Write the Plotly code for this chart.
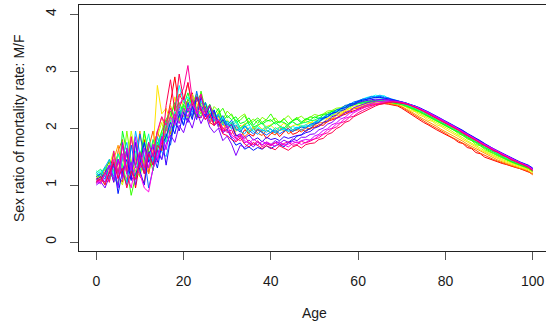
import colorsys
import plotly.graph_objects as go

ages = list(range(0, 101))

s00 = [1.05,1.10,1.02,1.25,1.55,1.15,1.05,1.65,1.35,0.95,
       1.40,1.80,1.20,1.55,1.95,1.72,2.05,2.45,2.90,2.35,
       2.55,2.40,2.62,2.20,2.18,2.38,2.10,2.05,2.22,1.95,
       1.98,2.06,1.88,1.84,1.97,1.90,1.86,1.99,1.93,1.82,
       1.90,1.95,1.85,1.93,2.00,1.89,1.92,1.98,1.94,2.00,
       2.01,2.06,2.05,2.12,2.14,2.17,2.22,2.24,2.28,2.30,
       2.33,2.36,2.38,2.40,2.42,2.42,2.43,2.42,2.41,2.39,
       2.35,2.30,2.24,2.20,2.15,2.10,2.06,2.01,1.97,1.93,
       1.89,1.84,1.81,1.75,1.73,1.66,1.64,1.57,1.55,1.49,
       1.46,1.43,1.40,1.38,1.36,1.33,1.31,1.29,1.26,1.24,
       1.20]
s01 = [1.15,1.08,1.30,1.40,1.05,1.60,1.80,1.20,1.10,1.50,
       1.15,1.05,1.65,1.95,1.52,1.68,2.15,1.90,2.35,2.60,
       2.45,2.80,2.35,2.48,2.60,2.25,2.12,2.28,2.02,2.10,
       1.95,1.90,2.03,1.97,1.85,1.92,2.00,1.91,1.87,1.96,
       1.92,1.88,1.97,2.02,1.90,1.95,1.99,1.93,2.01,1.98,
       2.04,2.03,2.09,2.11,2.17,2.18,2.23,2.27,2.29,2.34,
       2.35,2.38,2.40,2.42,2.43,2.44,2.44,2.43,2.42,2.40,
       2.37,2.32,2.27,2.22,2.18,2.13,2.08,2.04,2.00,1.95,
       1.91,1.86,1.82,1.78,1.74,1.69,1.65,1.61,1.56,1.52,
       1.48,1.45,1.42,1.39,1.37,1.34,1.32,1.29,1.27,1.24,
       1.18]
s02 = [1.12,1.18,1.28,1.05,1.45,1.70,1.25,1.10,1.85,1.45,
       1.95,1.38,1.20,1.75,1.90,2.20,1.95,2.40,2.15,2.30,
       2.20,2.52,2.35,2.20,2.45,2.30,2.08,2.20,2.15,1.98,
       2.08,2.00,1.94,2.05,1.99,1.91,2.03,1.96,1.93,2.02,
       1.98,1.92,2.01,1.95,2.05,1.97,1.96,2.03,2.00,2.04,
       2.06,2.09,2.10,2.16,2.17,2.22,2.24,2.29,2.31,2.35,
       2.36,2.39,2.41,2.43,2.44,2.45,2.45,2.44,2.43,2.41,
       2.38,2.34,2.29,2.25,2.20,2.16,2.11,2.07,2.03,1.98,
       1.94,1.89,1.85,1.81,1.77,1.72,1.68,1.63,1.59,1.55,
       1.51,1.47,1.44,1.41,1.38,1.35,1.33,1.30,1.28,1.25,
       1.19]
s03 = [1.08,1.15,1.30,1.20,1.12,1.38,1.25,1.55,1.42,1.22,
       1.50,1.35,1.75,1.60,2.75,2.25,2.35,2.10,2.55,2.28,
       2.40,2.30,2.18,2.45,2.25,2.35,2.15,2.10,2.20,2.05,
       2.02,2.10,1.97,2.01,2.08,1.96,2.00,2.06,1.98,2.03,
       2.05,1.98,2.02,2.09,2.00,2.04,2.07,2.02,2.06,2.10,
       2.09,2.13,2.16,2.17,2.22,2.25,2.26,2.31,2.34,2.35,
       2.38,2.41,2.43,2.45,2.46,2.47,2.47,2.46,2.45,2.43,
       2.40,2.37,2.31,2.29,2.23,2.20,2.14,2.12,2.06,2.03,
       1.98,1.94,1.89,1.85,1.80,1.76,1.71,1.67,1.62,1.58,
       1.54,1.50,1.47,1.43,1.40,1.37,1.35,1.32,1.29,1.27,
       1.22]
s04 = [1.18,1.12,1.00,1.35,1.60,1.15,1.00,1.40,1.95,1.55,
       1.25,1.90,1.45,1.38,1.85,2.10,1.80,2.25,2.40,2.15,
       2.50,2.28,2.60,2.35,2.20,2.42,2.25,2.12,2.30,2.08,
       2.15,2.05,2.10,1.98,2.07,2.12,2.01,2.04,2.10,2.02,
       2.06,2.11,2.03,2.00,2.08,2.12,2.05,2.08,2.13,2.09,
       2.14,2.13,2.18,2.21,2.22,2.27,2.28,2.33,2.35,2.39,
       2.40,2.42,2.44,2.46,2.47,2.47,2.47,2.46,2.45,2.44,
       2.41,2.38,2.34,2.30,2.26,2.22,2.18,2.14,2.10,2.05,
       2.01,1.97,1.92,1.88,1.83,1.78,1.74,1.69,1.65,1.60,
       1.56,1.52,1.49,1.45,1.42,1.39,1.36,1.33,1.31,1.28,
       1.23]
s05 = [1.10,1.22,1.15,1.08,1.35,1.55,1.30,1.95,1.42,1.25,
       1.15,1.48,1.60,1.40,1.72,1.95,2.05,1.85,2.30,2.10,
       2.38,2.15,2.45,2.60,2.30,2.45,2.20,2.38,2.30,2.15,
       2.30,2.22,2.12,2.20,2.25,2.10,2.16,2.08,2.19,2.14,
       2.12,2.18,2.09,2.16,2.22,2.13,2.17,2.21,2.14,2.19,
       2.24,2.22,2.25,2.30,2.31,2.35,2.36,2.39,2.42,2.42,
       2.44,2.47,2.46,2.49,2.47,2.49,2.46,2.47,2.44,2.43,
       2.41,2.38,2.35,2.32,2.28,2.24,2.20,2.16,2.12,2.08,
       2.04,1.99,1.96,1.90,1.87,1.81,1.78,1.71,1.69,1.62,
       1.59,1.55,1.51,1.47,1.44,1.41,1.38,1.35,1.32,1.29,
       1.24]
s06 = [1.15,1.20,1.30,1.12,1.42,1.25,1.50,1.30,0.82,1.15,
       1.40,1.25,1.55,1.70,1.62,1.95,2.15,2.30,2.05,2.45,
       2.28,2.50,2.40,2.20,2.65,2.32,2.40,2.18,2.25,2.35,
       2.18,2.25,2.10,2.14,2.22,2.06,2.12,2.18,2.10,2.15,
       2.25,2.12,2.10,2.17,2.08,2.14,2.19,2.11,2.16,2.20,
       2.18,2.22,2.24,2.27,2.30,2.33,2.35,2.36,2.40,2.43,
       2.44,2.45,2.47,2.48,2.49,2.49,2.48,2.47,2.46,2.44,
       2.42,2.39,2.36,2.33,2.29,2.25,2.21,2.17,2.13,2.09,
       2.05,2.01,1.96,1.92,1.87,1.83,1.78,1.74,1.69,1.64,
       1.60,1.56,1.52,1.48,1.45,1.41,1.38,1.35,1.33,1.30,
       1.25]
s07 = [1.20,1.12,1.22,1.45,1.25,1.00,1.95,1.60,1.20,1.75,
       1.40,1.95,1.55,1.25,1.75,1.60,2.00,2.20,2.45,2.25,
       2.40,2.62,2.35,2.55,2.40,2.28,2.42,2.22,2.35,2.12,
       2.22,2.15,2.20,2.08,2.11,2.18,2.05,2.14,2.07,2.12,
       2.15,2.07,2.12,2.10,2.05,2.13,2.16,2.09,2.17,2.14,
       2.20,2.17,2.23,2.24,2.29,2.29,2.34,2.37,2.38,2.42,
       2.43,2.45,2.46,2.47,2.48,2.48,2.47,2.46,2.45,2.44,
       2.42,2.40,2.37,2.34,2.30,2.26,2.22,2.18,2.14,2.10,
       2.06,2.02,1.98,1.93,1.89,1.84,1.80,1.75,1.71,1.66,
       1.62,1.57,1.53,1.49,1.46,1.42,1.39,1.36,1.33,1.30,
       1.25]
s08 = [1.22,1.28,1.15,1.22,1.38,1.20,1.45,1.62,1.35,1.15,
       1.55,1.75,1.42,1.80,1.60,1.88,2.12,2.00,2.28,2.18,
       2.42,2.28,2.50,2.35,2.25,2.45,2.28,2.15,2.22,2.10,
       2.12,2.08,2.15,2.00,2.06,2.11,2.02,2.05,2.09,1.99,
       2.05,2.10,2.04,2.00,2.07,2.11,2.06,2.09,2.10,2.13,
       2.14,2.18,2.19,2.24,2.25,2.30,2.31,2.36,2.37,2.41,
       2.43,2.45,2.47,2.48,2.49,2.49,2.48,2.47,2.46,2.45,
       2.43,2.41,2.38,2.35,2.31,2.27,2.23,2.19,2.15,2.11,
       2.07,2.03,1.99,1.94,1.90,1.85,1.81,1.76,1.72,1.67,
       1.63,1.58,1.54,1.50,1.47,1.43,1.40,1.37,1.34,1.31,
       1.26]
s09 = [1.25,1.20,1.32,1.10,1.22,1.55,1.35,1.05,1.70,1.50,
       1.20,1.60,1.90,1.40,1.70,1.90,1.75,2.15,2.05,2.40,
       2.25,2.35,2.50,2.30,2.20,2.35,2.15,2.25,2.02,2.18,
       2.02,2.10,1.96,1.99,2.05,1.92,1.98,2.03,1.95,1.97,
       1.92,2.01,1.96,1.98,2.03,1.97,2.00,2.05,2.01,2.06,
       2.07,2.13,2.15,2.21,2.23,2.29,2.31,2.37,2.39,2.44,
       2.46,2.48,2.51,2.52,2.55,2.53,2.52,2.50,2.47,2.45,
       2.43,2.41,2.39,2.36,2.33,2.29,2.25,2.21,2.17,2.13,
       2.09,2.05,2.01,1.96,1.92,1.87,1.83,1.78,1.74,1.69,
       1.64,1.60,1.56,1.52,1.48,1.44,1.41,1.38,1.35,1.32,
       1.27]
s10 = [1.18,1.25,1.15,1.20,1.32,1.18,1.50,1.38,1.25,1.60,
       1.42,1.28,1.50,1.68,1.52,1.80,2.10,1.95,2.30,2.75,
       2.45,2.55,2.35,2.28,2.48,2.30,2.20,2.32,2.12,2.18,
       2.08,2.02,2.12,1.97,2.01,2.06,1.94,2.00,1.97,2.03,
       1.97,1.93,2.02,1.99,1.95,2.03,2.00,2.02,2.06,2.04,
       2.11,2.13,2.19,2.21,2.27,2.29,2.35,2.37,2.43,2.44,
       2.48,2.51,2.54,2.55,2.58,2.56,2.57,2.52,2.49,2.47,
       2.45,2.44,2.40,2.38,2.33,2.31,2.26,2.23,2.17,2.15,
       2.10,2.06,2.02,1.97,1.93,1.88,1.84,1.79,1.75,1.70,
       1.65,1.61,1.57,1.53,1.49,1.45,1.42,1.39,1.36,1.33,
       1.28]
s11 = [1.22,1.15,1.32,1.45,1.15,1.00,1.50,1.75,1.25,1.95,
       1.55,1.25,1.75,1.40,1.85,1.58,1.50,1.82,2.05,2.35,
       2.15,2.40,2.28,2.55,2.32,2.22,2.38,2.12,2.25,2.05,
       2.12,1.98,2.06,1.95,1.90,2.01,1.94,1.89,1.97,1.93,
       1.99,1.91,1.96,2.00,1.94,1.97,2.02,1.96,2.04,2.03,
       2.10,2.11,2.18,2.20,2.26,2.28,2.34,2.36,2.42,2.43,
       2.47,2.50,2.53,2.56,2.55,2.58,2.55,2.53,2.50,2.48,
       2.46,2.44,2.41,2.38,2.35,2.31,2.27,2.23,2.19,2.15,
       2.11,2.07,2.03,1.98,1.94,1.89,1.85,1.80,1.76,1.71,
       1.66,1.62,1.58,1.54,1.50,1.46,1.43,1.40,1.37,1.33,
       1.28]
s12 = [1.15,1.20,1.10,1.35,1.10,1.45,1.22,1.00,1.70,1.30,
       1.90,1.50,0.95,1.30,1.60,1.45,1.90,1.70,2.15,2.30,
       2.05,2.45,2.20,2.65,2.30,2.45,2.18,2.30,2.10,2.22,
       2.05,2.14,1.99,1.93,2.04,1.96,1.90,1.97,1.92,1.88,
       1.93,1.97,1.90,1.95,1.99,1.94,1.98,2.02,2.00,2.07,
       2.09,2.16,2.18,2.24,2.26,2.32,2.34,2.40,2.41,2.46,
       2.48,2.51,2.51,2.55,2.54,2.56,2.53,2.53,2.49,2.48,
       2.46,2.44,2.42,2.39,2.36,2.32,2.28,2.24,2.20,2.16,
       2.12,2.08,2.04,1.99,1.95,1.90,1.86,1.81,1.77,1.72,
       1.67,1.63,1.59,1.55,1.51,1.47,1.44,1.40,1.37,1.34,
       1.29]
s13 = [1.10,1.15,1.05,1.22,1.38,0.85,1.25,1.45,1.08,1.20,
       1.35,1.75,1.40,1.55,1.30,1.70,1.85,2.10,1.90,2.25,
       2.05,2.35,2.15,2.55,2.35,2.20,2.40,2.05,2.12,1.92,
       1.98,1.82,1.70,1.74,1.63,1.67,1.61,1.66,1.63,1.69,
       1.64,1.69,1.72,1.67,1.75,1.78,1.86,1.88,1.96,1.99,
       2.07,2.10,2.17,2.20,2.26,2.28,2.34,2.36,2.42,2.43,
       2.47,2.49,2.51,2.53,2.54,2.54,2.53,2.52,2.50,2.48,
       2.46,2.44,2.42,2.39,2.36,2.33,2.29,2.25,2.21,2.17,
       2.13,2.09,2.05,2.00,1.96,1.91,1.87,1.82,1.78,1.73,
       1.68,1.64,1.60,1.56,1.52,1.48,1.45,1.41,1.38,1.35,
       1.30]
s14 = [1.05,1.10,1.22,1.35,1.05,1.45,1.15,1.60,1.10,1.75,
       1.25,1.00,1.55,1.68,1.40,1.85,1.35,1.80,2.15,1.95,
       2.28,2.10,2.38,2.15,2.55,2.28,2.18,2.32,2.05,2.15,
       2.00,2.07,1.86,1.90,1.82,1.88,1.79,1.83,1.76,1.84,
       1.80,1.82,1.78,1.85,1.82,1.85,1.87,1.88,1.92,1.94,
       2.00,2.03,2.10,2.13,2.20,2.23,2.30,2.33,2.39,2.41,
       2.45,2.47,2.49,2.50,2.51,2.51,2.50,2.49,2.48,2.47,
       2.45,2.43,2.41,2.38,2.35,2.32,2.28,2.24,2.20,2.16,
       2.12,2.08,2.04,1.99,1.95,1.90,1.86,1.81,1.77,1.72,
       1.67,1.63,1.59,1.55,1.51,1.47,1.44,1.40,1.37,1.34,
       1.29]
s15 = [1.00,1.06,0.95,1.15,1.35,0.95,1.75,1.20,1.40,1.00,
       1.55,1.20,1.58,1.35,1.62,1.45,1.72,1.88,1.75,2.05,
       1.92,2.18,2.00,2.30,2.08,2.25,2.02,1.92,2.00,1.78,
       1.86,1.72,1.52,1.70,1.66,1.73,1.67,1.76,1.71,1.75,
       1.71,1.78,1.73,1.79,1.75,1.81,1.78,1.84,1.84,1.89,
       1.90,1.97,2.00,2.07,2.10,2.17,2.20,2.27,2.30,2.36,
       2.39,2.42,2.45,2.47,2.49,2.50,2.51,2.50,2.49,2.47,
       2.46,2.44,2.41,2.38,2.35,2.32,2.28,2.24,2.20,2.16,
       2.12,2.08,2.03,1.99,1.94,1.90,1.85,1.81,1.76,1.72,
       1.67,1.63,1.59,1.55,1.51,1.47,1.43,1.40,1.37,1.34,
       1.28]
s16 = [1.08,1.02,1.18,1.35,1.08,1.45,1.10,1.65,1.25,1.85,
       1.30,1.65,1.30,1.72,1.45,1.85,1.62,2.00,2.25,2.08,
       2.35,2.20,2.42,2.28,2.18,2.35,2.10,2.20,2.02,1.92,
       1.98,1.85,1.78,1.88,1.74,1.79,1.72,1.70,1.77,1.73,
       1.69,1.74,1.76,1.70,1.72,1.77,1.74,1.78,1.80,1.79,
       1.86,1.89,1.96,1.99,2.06,2.09,2.16,2.19,2.26,2.29,
       2.34,2.38,2.41,2.44,2.46,2.47,2.48,2.48,2.47,2.46,
       2.45,2.43,2.41,2.38,2.35,2.32,2.28,2.24,2.20,2.16,
       2.12,2.07,2.03,1.98,1.94,1.89,1.85,1.80,1.76,1.71,
       1.66,1.62,1.58,1.54,1.50,1.46,1.43,1.40,1.37,1.33,
       1.28]
s17 = [1.02,1.10,1.05,1.25,1.45,1.10,1.55,1.20,0.95,1.35,
       1.20,0.95,0.88,1.30,1.45,1.78,1.95,2.20,2.05,2.40,
       2.55,2.30,2.48,2.25,2.38,2.15,2.25,2.05,2.15,1.95,
       2.05,1.88,1.82,1.90,1.78,1.73,1.81,1.75,1.70,1.76,
       1.72,1.68,1.75,1.71,1.67,1.73,1.76,1.71,1.75,1.79,
       1.81,1.87,1.90,1.97,2.00,2.07,2.10,2.17,2.20,2.27,
       2.31,2.35,2.38,2.41,2.43,2.45,2.46,2.47,2.47,2.46,
       2.45,2.43,2.41,2.38,2.35,2.31,2.27,2.23,2.19,2.15,
       2.11,2.07,2.02,1.98,1.93,1.89,1.84,1.80,1.75,1.71,
       1.66,1.62,1.58,1.54,1.50,1.46,1.43,1.39,1.36,1.33,
       1.27]
s18 = [1.12,1.05,1.22,1.05,1.60,1.20,1.70,1.25,1.85,1.35,
       1.58,1.30,1.75,1.50,1.95,2.20,2.05,2.35,2.15,2.55,
       2.70,3.10,2.50,2.30,2.60,2.25,2.40,2.20,2.10,2.00,
       1.92,1.97,1.82,1.78,1.86,1.74,1.71,1.78,1.67,1.72,
       1.70,1.75,1.69,1.73,1.76,1.70,1.71,1.77,1.74,1.77,
       1.81,1.83,1.89,1.92,1.99,2.02,2.09,2.12,2.19,2.21,
       2.27,2.31,2.35,2.38,2.41,2.43,2.45,2.46,2.46,2.46,
       2.45,2.43,2.40,2.37,2.34,2.30,2.26,2.22,2.18,2.14,
       2.10,2.06,2.01,1.97,1.92,1.88,1.83,1.79,1.74,1.70,
       1.65,1.60,1.58,1.52,1.50,1.44,1.43,1.38,1.36,1.31,
       1.26]
s19 = [1.05,1.15,1.00,1.22,1.40,1.12,1.30,0.95,1.25,1.10,
       1.40,1.20,1.55,1.35,1.70,1.60,2.40,2.85,2.30,2.95,
       2.50,2.80,2.40,2.55,2.30,2.15,2.25,2.05,2.12,1.90,
       1.87,1.80,1.76,1.83,1.72,1.67,1.75,1.70,1.64,1.69,
       1.66,1.62,1.69,1.65,1.61,1.67,1.70,1.65,1.71,1.73,
       1.74,1.80,1.82,1.89,1.92,1.99,2.03,2.10,2.13,2.20,
       2.24,2.28,2.32,2.36,2.39,2.42,2.44,2.45,2.46,2.45,
       2.44,2.42,2.40,2.37,2.33,2.29,2.25,2.21,2.17,2.13,
       2.09,2.05,2.00,1.96,1.91,1.87,1.82,1.78,1.73,1.69,
       1.64,1.60,1.56,1.52,1.48,1.44,1.41,1.38,1.35,1.31,
       1.25]

series = [s00, s01, s02, s03, s04, s05, s06, s07, s08, s09,
          s10, s11, s12, s13, s14, s15, s16, s17, s18, s19]

x_ticks = [0, 20, 40, 60, 80, 100]
y_ticks = [0, 1, 2, 3, 4]

n = len(series)
fig = go.Figure()
for i, s in enumerate(series):
    r, g, b = colorsys.hsv_to_rgb(i / n, 1.0, 1.0)
    col = "rgb(%d,%d,%d)" % (round(r * 255), round(g * 255), round(b * 255))
    fig.add_trace(go.Scatter(x=ages, y=s, mode="lines",
                             line=dict(color=col, width=1),
                             showlegend=False, hoverinfo="skip"))

FONT = "Liberation Sans, Arial, sans-serif"
fig.update_layout(
    width=546, height=328,
    margin=dict(l=78.7, r=0, t=4.7, b=77.3),
    paper_bgcolor="white", plot_bgcolor="white",
    font=dict(family=FONT, size=14, color="#1a1a1a"),
    xaxis=dict(range=[-3.96, 103.05], tickvals=x_ticks,
               ticks="outside", ticklen=8, tickcolor="#555", tickwidth=1,
               showline=True, linecolor="#222", linewidth=1, mirror=True,
               showgrid=False, zeroline=False, ticklabelstandoff=9),
    yaxis=dict(range=[-0.158, 4.163], tickvals=y_ticks, tickangle=-90,
               ticks="outside", ticklen=8, tickcolor="#555", tickwidth=1,
               showline=True, linecolor="#222", linewidth=1,
               showgrid=False, zeroline=False, ticklabelstandoff=8),
    annotations=[
        dict(text="Age", xref="paper", yref="paper", x=0.5035, y=0,
             xanchor="center", yanchor="middle", yshift=-62, showarrow=False,
             font=dict(size=14)),
        dict(text="Sex ratio of mortality rate: M/F", xref="paper", yref="paper",
             x=0, y=0.5, xanchor="center", yanchor="middle", xshift=-60,
             textangle=-90, showarrow=False, font=dict(size=14)),
    ],
)
fig.write_html("out.html")
